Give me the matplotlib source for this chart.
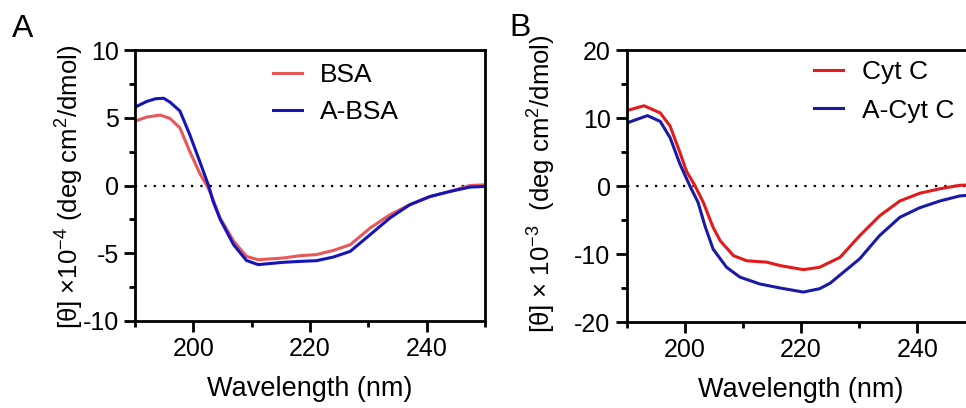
import matplotlib
matplotlib.use("Agg")
import matplotlib.pyplot as plt
from matplotlib.ticker import MultipleLocator

plt.rcParams["font.family"] = ["Liberation Sans", "DejaVu Sans"]
plt.rcParams["mathtext.fontset"] = "custom"
plt.rcParams["mathtext.rm"] = "Liberation Sans"
plt.rcParams["axes.unicode_minus"] = False

# panel A: BSA / A-BSA, [theta] x 1e-4
wl_bsa = [190, 192, 194.3, 196, 197.7, 199.4, 201.1, 202.3, 202.9, 204.6, 206.9, 209.1,
          211.1, 215.4, 218.3, 221.1, 224, 226.9, 230.3, 233.7, 237.1, 240.6, 244, 247.4, 250]
bsa = [4.75, 5.05, 5.2, 4.95, 4.25, 2.5, 0.9, 0.0, -0.5, -2.4, -4.1, -5.23,
       -5.48, -5.35, -5.18, -5.1, -4.79, -4.37, -3.14, -2.16, -1.42, -0.81, -0.44, 0.0, 0.05]
wl_absa = [190, 192, 193.5, 194.9, 196, 197.7, 199.4, 201.1, 202.6, 203.4, 204.6, 206.9, 209.1,
           211.1, 215.4, 218.3, 221.1, 224, 226.9, 230.3, 233.7, 237.1, 240.6, 244, 247.4, 250]
absa = [5.78, 6.2, 6.4, 6.44, 6.15, 5.5, 3.74, 1.77, 0.0, -1.18, -2.5, -4.37, -5.53,
        -5.84, -5.67, -5.6, -5.55, -5.28, -4.86, -3.63, -2.4, -1.42, -0.81, -0.44, -0.12, -0.07]

# panel B: Cyt C / A-Cyt C, [theta] x 1e-3
wl_cyt = [190.1, 193, 195.8, 197.5, 199.2, 200.3, 201.8, 203.2, 204.9, 206.1, 208.4, 210.7,
          214.1, 216.4, 220.4, 223.2, 225, 226.7, 230.1, 233.5, 237, 240.4, 243.9, 247.3, 250]
cyt = [11.1, 11.8, 10.75, 8.8, 4.9, 2.2, 0.0, -2.4, -6.1, -8.05, -10.25, -11.0,
       -11.2, -11.7, -12.3, -11.95, -11.2, -10.5, -7.3, -4.4, -2.2, -1.07, -0.4, 0.1, 0.2]
wl_acyt = [190.1, 193.6, 195.8, 197.5, 199.2, 200.9, 202.3, 203.5, 204.9, 207.2, 209.5, 212.9,
           216.4, 220.4, 223.2, 225, 226.7, 230.1, 233.5, 237, 240.4, 243.9, 247.3, 250]
acyt = [9.28, 10.35, 9.5, 7.1, 3.2, 0.0, -2.4, -5.9, -9.3, -11.95, -13.4, -14.4,
        -15.0, -15.6, -15.1, -14.3, -13.1, -10.7, -7.3, -4.6, -3.2, -2.2, -1.46, -1.3]

W, H = 966, 408
fig = plt.figure(figsize=(W / 100, H / 100), dpi=100)


def style(ax, ylim, major, minor):
    ax.set_xlim(190, 250)
    ax.set_ylim(*ylim)
    ax.xaxis.set_major_locator(MultipleLocator(20))
    ax.xaxis.set_minor_locator(MultipleLocator(10))
    ax.yaxis.set_major_locator(MultipleLocator(major))
    ax.yaxis.set_minor_locator(MultipleLocator(minor))
    for s in ax.spines.values():
        s.set_linewidth(2.0)
    ax.tick_params(which="major", length=8, width=2.0, labelsize=18, pad=3.5)
    ax.tick_params(which="minor", length=4, width=2.0)
    ax.axhline(0, color="black", lw=1.6, ls=(0, (1, 3.2)), zorder=1)
    ax.set_xlabel("Wavelength (nm)", fontsize=19.5, labelpad=11)


# panel A
axA = fig.add_axes([135 / W, 1 - 321 / H, 350 / W, 271 / H])
axA.plot(wl_bsa, bsa, color="#E8575A", lw=2.2, label="BSA")
axA.plot(wl_absa, absa, color="#1414B8", lw=2.2, label="A-BSA")
style(axA, (-10, 10), 5, 2.5)
axA.legend(loc="upper left", bbox_to_anchor=(0.326, 1.04), frameon=False, fontsize=19,
           handlelength=1.1, handletextpad=0.7, labelspacing=0.5)
fig.text(69 / W, 1 - 187 / H, "[θ] ×10$^{\\mathregular{-4}}$ (deg cm$^{\\mathregular{2}}$/dmol)",
         rotation=90, ha="center", va="center", fontsize=18.5)
fig.text(12 / W, 1 - 37 / H, "A", fontsize=23, ha="left", va="baseline")

# panel B (right edge runs past the figure, as in the original)
axB = fig.add_axes([626.5 / W, 1 - 322 / H, 349 / W, 272 / H])
axB.plot(wl_cyt, cyt, color="#E31A1C", lw=2.2, label="Cyt C")
axB.plot(wl_acyt, acyt, color="#1A1AA6", lw=2.2, label="A-Cyt C")
style(axB, (-20, 20), 10, 5)
axB.legend(loc="upper left", bbox_to_anchor=(0.47, 1.05), frameon=False, fontsize=19,
           handlelength=1.1, handletextpad=0.7, labelspacing=0.55)
fig.text(541 / W, 1 - 184 / H, "[θ] × 10$^{\\mathregular{-3}}$  (deg cm$^{\\mathregular{2}}$/dmol)",
         rotation=90, ha="center", va="center", fontsize=18.5)
fig.text(509 / W, 1 - 36 / H, "B", fontsize=23, ha="left", va="baseline")

fig.savefig("out.png", dpi=100)
